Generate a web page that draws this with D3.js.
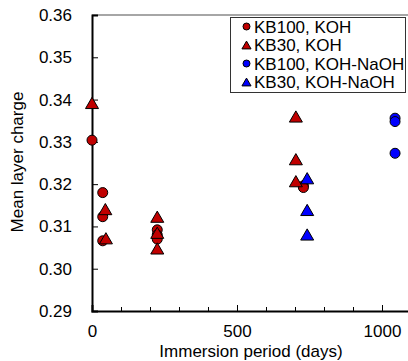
<!DOCTYPE html>
<html><head><meta charset="utf-8">
<script src="https://cdn.jsdelivr.net/npm/d3@7"></script>
<style>body{margin:0;background:#fff}svg{display:block;font-family:"Liberation Sans",Arial,sans-serif}</style>
</head><body><svg id="c" width="408" height="361"></svg>
<script>
const kb100KOH_days = [0, 37, 37, 37, 225, 225, 225, 729, 729];
const kb100KOH_vals = [0.3304, 0.3180, 0.3123, 0.3066, 0.3092, 0.3080, 0.3070, 0.3196, 0.3192];
const kb30KOH_days = [0, 46, 48, 225, 225, 225, 703, 703, 703];
const kb30KOH_vals = [0.3392, 0.3141, 0.3072, 0.3123, 0.3085, 0.3048, 0.3360, 0.3259, 0.3207];
const kb100Mix_days = [1045, 1045, 1045];
const kb100Mix_vals = [0.3356, 0.3348, 0.3273];
const kb30Mix_days = [742, 742, 742];
const kb30Mix_vals = [0.3214, 0.3139, 0.3081];
const seriesNames = ["KB100, KOH", "KB30, KOH", "KB100, KOH-NaOH", "KB30, KOH-NaOH"];
const xTicks = [0, 500, 1000];
const yTicks = [0.29, 0.30, 0.31, 0.32, 0.33, 0.34, 0.35, 0.36];

const RED = "#C00000", BLUE = "#0000FF";
const series = [
  {name: seriesNames[0], days: kb100KOH_days, vals: kb100KOH_vals, shape: "circle", color: RED},
  {name: seriesNames[1], days: kb30KOH_days, vals: kb30KOH_vals, shape: "triangle", color: RED},
  {name: seriesNames[2], days: kb100Mix_days, vals: kb100Mix_vals, shape: "circle", color: BLUE},
  {name: seriesNames[3], days: kb30Mix_days, vals: kb30Mix_vals, shape: "triangle", color: BLUE}
];

const FS = 17;
const svg = d3.select("#c");
const L = 92, T = 15, B = 311, R = 411;
const x = d3.scaleLinear().domain([0, 1100]).range([L, R]);
const y = d3.scaleLinear().domain([0.29, 0.36]).range([B, T]);

// top frame
svg.append("line").attr("x1", L).attr("x2", R).attr("y1", T).attr("y2", T)
  .attr("stroke", "#888").attr("stroke-width", 1.5);
svg.append("line").attr("x1", R).attr("x2", R).attr("y1", T).attr("y2", B)
  .attr("stroke", "#888").attr("stroke-width", 1.5);

// y axis
const yAxis = d3.axisLeft(y).tickValues(yTicks).tickSize(-6).tickPadding(20)
  .tickFormat(d3.format(".2f"));
const gy = svg.append("g").attr("transform", `translate(${L},0)`).call(yAxis);
gy.select(".domain").attr("stroke", "#000").attr("stroke-width", 2);
gy.selectAll(".tick line").attr("stroke", "#000").attr("stroke-width", 1);
gy.selectAll(".tick text").attr("font-size", FS).attr("fill", "#000")
  .attr("font-family", "Liberation Sans, Arial, sans-serif");

// x axis minor
const xMinor = d3.axisBottom(x).tickValues(d3.range(0, 1101, 100)).tickSize(-4).tickFormat("");
const gxm = svg.append("g").attr("transform", `translate(0,${B})`).call(xMinor);
gxm.select(".domain").remove();
gxm.selectAll(".tick line").attr("stroke", "#000");
const xAxis = d3.axisBottom(x).tickValues(xTicks).tickSize(-6).tickPadding(14).tickFormat(d3.format("d"));
const gx = svg.append("g").attr("transform", `translate(0,${B})`).call(xAxis);
gx.select(".domain").attr("stroke", "#000").attr("stroke-width", 2);
gx.selectAll(".tick line").attr("stroke", "#000");
gx.selectAll(".tick text").attr("font-size", FS).attr("fill", "#000")
  .attr("font-family", "Liberation Sans, Arial, sans-serif");

// axis titles
svg.append("text").attr("x", 251).attr("y", 357).attr("text-anchor", "middle")
  .attr("font-size", FS).text("Immersion period (days)");
svg.append("text").attr("transform", "translate(23,162) rotate(-90)").attr("text-anchor", "middle")
  .attr("font-size", FS).text("Mean layer charge");

function drawMarker(g, shape, color, cx, cy, size) {
  if (shape === "circle") {
    g.append("circle").attr("cx", cx).attr("cy", cy).attr("r", size / 2)
      .attr("fill", color).attr("stroke", "#000").attr("stroke-width", 1);
  } else {
    const w = size * 1.3, h = size * 1.12;
    const p = `M${cx},${cy - h / 2}L${cx + w / 2},${cy + h / 2}L${cx - w / 2},${cy + h / 2}Z`;
    g.append("path").attr("d", p).attr("fill", color).attr("stroke", "#000").attr("stroke-width", 1);
  }
}

const gp = svg.append("g");
series.forEach(s => {
  s.days.forEach((d, i) => drawMarker(gp, s.shape, s.color, x(d), y(s.vals[i]), 10));
});

// legend
const lg = svg.append("g");
lg.append("rect").attr("x", 230.5).attr("y", 17.5).attr("width", 175).attr("height", 75)
  .attr("fill", "#fff").attr("stroke", "#333").attr("stroke-width", 1);
series.forEach((s, i) => {
  const cy = 26.5 + i * 18.5;
  drawMarker(lg, s.shape, s.color, 246.5, cy, 7);
  lg.append("text").attr("x", 254).attr("y", cy + 6).attr("font-size", FS).text(s.name);
});
</script></body></html>
